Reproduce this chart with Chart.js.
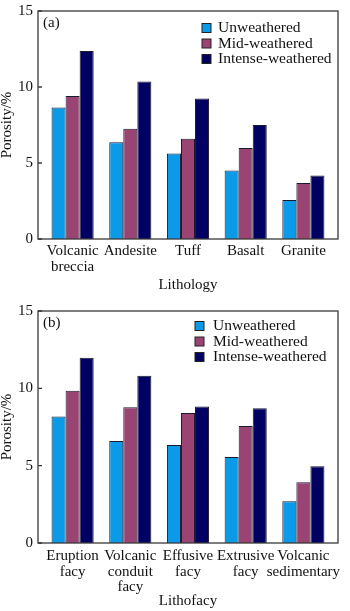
<!DOCTYPE html>
<html>
<head>
<meta charset="utf-8">
<script src="https://cdn.jsdelivr.net/npm/chart.js@4/dist/chart.umd.min.js"></script>
<style>
  html,body{margin:0;padding:0;background:#fff;}
  .panel{position:relative;width:350px;}
</style>
</head>
<body>
<div class="panel" style="height:300px"><canvas id="chartA"></canvas></div>
<div class="panel" style="height:311px"><canvas id="chartB"></canvas></div>
<script>
const SERIES = ['Unweathered','Mid-weathered','Intense-weathered'];
const COLORS = ['#0a9ae8','#9a4474','#000063'];
const Y_TICKS = [0,5,10,15];

// (a) lithology
const lithology   = [['Volcanic','breccia'],'Andesite','Tuff','Basalt','Granite'];
const lithUnw     = [8.65,6.37,5.63,4.5,2.56];
const lithMid     = [9.4,7.25,6.6,5.98,3.68];
const lithIntense = [12.37,10.37,9.25,7.5,4.17];

// (b) lithofacy
const facies      = [['Eruption','facy'],['Volcanic','conduit','facy'],['Effusive','facy'],['Extrusive','facy'],['Volcanic','sedimentary']];
const facUnw      = [8.18,6.6,6.34,5.56,2.7];
const facMid      = [9.84,8.77,8.4,7.57,3.92];
const facIntense  = [11.97,10.82,8.83,8.72,4.97];

Chart.defaults.font.family = "'Liberation Serif', 'Times New Roman', serif";
Chart.defaults.font.size = 15;
Chart.defaults.color = '#111';

const FONT = {size:15, lineHeight:1.05};

// frame box, inward ticks, panel tag and legend inside plot
const framePlugin = {
  id:'frame',
  afterDatasetsDraw(chart, args, opts){
    const {ctx, chartArea:a, scales:{y}} = chart;
    ctx.save();
    ctx.strokeStyle = '#3a3a3a';
    ctx.lineWidth = 1.3;
    ctx.strokeRect(a.left, a.top, a.width, a.height);
    ctx.beginPath();
    y.ticks.forEach(t => {
      const py = y.getPixelForValue(t.value);
      ctx.moveTo(a.left, py); ctx.lineTo(a.left+4, py);
    });
    ctx.stroke();
    ctx.textBaseline = 'middle';
    ctx.fillStyle = '#111';
    ctx.font = "15px 'Liberation Serif'";
    ctx.fillText(opts.tag, a.left+5, a.top+opts.tagY);
    ctx.font = "15.5px 'Liberation Serif'";
    chart.data.datasets.forEach((ds,i) => {
      const bx = a.left + opts.legendX, by = a.top + opts.legendY + i*15.5;
      ctx.fillStyle = ds.backgroundColor;
      ctx.fillRect(bx, by-4.5, 9, 9);
      ctx.lineWidth = 1;
      ctx.strokeStyle = '#222';
      ctx.strokeRect(bx, by-4.5, 9, 9);
      ctx.fillStyle = '#111';
      ctx.fillText(ds.label, bx+opts.textGap, by);
    });
    ctx.restore();
  }
};

function makeChart(id, labels, values, xTitle, cfg){
  new Chart(document.getElementById(id),{
    type:'bar',
    data:{datasets:values.map((vals,k)=>({
      label:SERIES[k],
      data:vals.map((v,i)=>({x:i,y:v})),
      backgroundColor:COLORS[k],
      borderColor:'#1a1a2e',borderWidth:1,
      categoryPercentage:0.73,barPercentage:1
    }))},
    options:{
      responsive:true,maintainAspectRatio:false,animation:false,
      layout:{padding:{top:cfg.top,right:12,left:0,bottom:0}},
      plugins:{legend:{display:false},tooltip:{enabled:false},frame:cfg.frame},
      scales:{
        x:{type:'linear',min:-0.6,max:4.6,offset:false,
          grid:{display:false,drawTicks:false},border:{display:false},
          afterBuildTicks:s=>{ s.ticks = labels.map((_,i)=>({value:i})); },
          ticks:{autoSkip:false,maxRotation:0,minRotation:0,padding:cfg.xPad,font:FONT,
            callback:v=>labels[v]},
          title:{display:true,text:xTitle,font:{size:15,lineHeight:1},padding:{top:0,bottom:cfg.titleBottom}},
          afterFit:s=>{ s.height = cfg.xHeight; }
        },
        y:{min:0,max:15,
          grid:{display:false,drawTicks:false},border:{display:false},
          afterBuildTicks:s=>{ s.ticks = Y_TICKS.map(v=>({value:v})); },
          ticks:{padding:5,font:{size:15,lineHeight:0.8}},
          title:{display:true,text:'Porosity/%',font:{size:15,lineHeight:1},padding:{top:0,bottom:2}},
          afterFit:s=>{ s.width = 38; }
        }
      }
    },
    plugins:[framePlugin]
  });
}

makeChart('chartA', lithology, [lithUnw,lithMid,lithIntense], 'Lithology',
  {top:5, xHeight:61, xPad:4, titleBottom:7,
   frame:{tag:'(a)',tagY:12,legendX:164,legendY:17,textGap:16}});
makeChart('chartB', facies, [facUnw,facMid,facIntense], 'Lithofacy',
  {top:11, xHeight:68, xPad:5, titleBottom:2,
   frame:{tag:'(b)',tagY:12,legendX:157,legendY:15,textGap:18}});
</script>
</body>
</html>
